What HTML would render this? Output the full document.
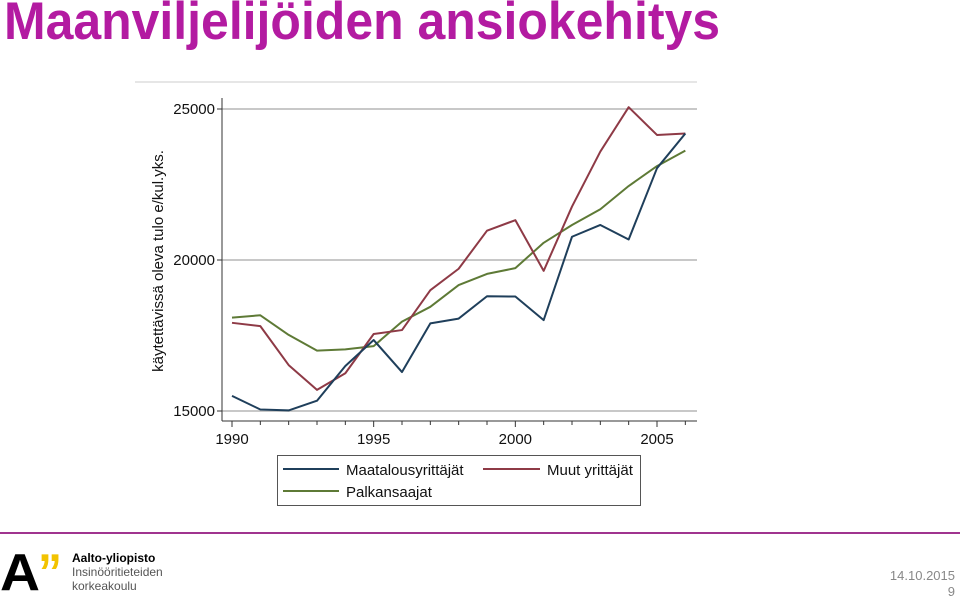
<!DOCTYPE html>
<html><head><meta charset="utf-8"><style>
html,body{margin:0;padding:0;background:#fff;}
svg{display:block;font-family:"Liberation Sans",sans-serif;}
</style></head><body>
<svg id="page" width="960" height="598" viewBox="0 0 960 598">
<text x="4" y="39" font-size="53" font-weight="bold" fill="#b31ba1" textLength="716" lengthAdjust="spacingAndGlyphs">Maanviljelijöiden ansiokehitys</text>
<line x1="135" y1="82" x2="697" y2="82" stroke="#ddd" stroke-width="1.5"/>
<g id="chart"></g>
<g>
<rect x="277.5" y="455.5" width="363" height="50" fill="#fff" stroke="#555" stroke-width="1"/>
<g><line x1="283" y1="469" x2="339" y2="469" stroke="#1f3f5b" stroke-width="2"/><text x="346" y="475" font-size="15" fill="#111">Maatalousyrittäjät</text></g>
<g><line x1="483" y1="469" x2="540" y2="469" stroke="#8e3a46" stroke-width="2"/><text x="547" y="475" font-size="15" fill="#111">Muut yrittäjät</text></g>
<g><line x1="283" y1="491" x2="339" y2="491" stroke="#5e7a36" stroke-width="2"/><text x="346" y="497" font-size="15" fill="#111">Palkansaajat</text></g>
</g>
<line x1="0" y1="533" x2="960" y2="533" stroke="#a0348f" stroke-width="2"/>
<g>
<text x="0" y="590" font-size="52" font-weight="bold" fill="#000" textLength="40" lengthAdjust="spacingAndGlyphs">A</text>
<text x="38" y="590" font-size="52" font-weight="bold" fill="#f2c300" textLength="24" lengthAdjust="spacingAndGlyphs">”</text>
</g>
<text x="72" y="562" font-size="12" font-weight="bold" fill="#000">Aalto-yliopisto</text>
<text x="72" y="576" font-size="12" fill="#555">Insinööritieteiden</text>
<text x="72" y="590" font-size="12" fill="#555">korkeakoulu</text>
<text x="955" y="580" font-size="13" fill="#888" text-anchor="end">14.10.2015</text>
<text x="955" y="596" font-size="13" fill="#888" text-anchor="end">9</text>
</svg>
<script>
const years=[1990,1991,1992,1993,1994,1995,1996,1997,1998,1999,2000,2001,2002,2003,2004,2005,2006];
const maatalous=[15500,15050,15020,15340,16490,17350,16290,17900,18060,18800,18790,18010,20770,21160,20680,23040,24190];
const muut=[17920,17810,16520,15700,16250,17550,17680,19000,19710,20970,21320,19640,21770,23590,25060,24140,24190];
const palkansaajat=[18090,18170,17520,17000,17040,17150,17960,18450,19170,19540,19730,20570,21160,21680,22450,23110,23620];
const yTicks=[15000,20000,25000];
const xTicks=[1990,1995,2000,2005];
const NS='http://www.w3.org/2000/svg';
const g=document.getElementById('chart');
const X=v=>232+(v-1990)*(425/15);
const Y=v=>411-(v-15000)*(151/5000);
function mk(t,a){const e=document.createElementNS(NS,t);for(const k in a)e.setAttribute(k,a[k]);g.appendChild(e);return e;}
yTicks.forEach(v=>{
 const l=mk('line',{x1:222,x2:697,y1:Y(v),y2:Y(v),stroke:'#c8c8c8','stroke-width':2});
 
 
 const tk=mk('line',{x1:217,x2:222,y1:Y(v),y2:Y(v),stroke:'#333'});
 
 
 const t=mk('text',{x:215,y:Y(v)+5,'font-size':15,'text-anchor':'end',fill:'#111'});
 t.textContent=v;
 
 
});
const ya=mk('line',{x1:222,x2:222,y1:98,y2:421,stroke:'#333'});


const xa=mk('line',{x1:222,x2:697,y1:421,y2:421,stroke:'#333'});


years.forEach(v=>{
 const big=xTicks.includes(v);
 const tk=mk('line',{x1:X(v),x2:X(v),y1:421,y2:big?427:425,stroke:'#333'});
 
 
});
xTicks.forEach(v=>{
 const t=mk('text',{x:X(v),y:444,'font-size':15,'text-anchor':'middle',fill:'#111'});
 t.textContent=v;
 
 
});
const yt=mk('text',{x:0,y:0,'font-size':15,'text-anchor':'middle',fill:'#111',transform:'translate(163,261) rotate(-90)'});
yt.textContent='käytettävissä oleva tulo e/kul.yks.';


[[palkansaajat,'#5e7a36','line-palkansaajat'],[muut,'#8e3a46','line-muut-yrittajat'],[maatalous,'#1f3f5b','line-maatalousyrittajat']].forEach(([s,c,n])=>{
 const p=mk('polyline',{points:s.map((v,i)=>X(years[i])+','+Y(v)).join(' '),fill:'none',stroke:c,'stroke-width':2,'stroke-linejoin':'round'});
 
 
});
</script>
</body></html>
